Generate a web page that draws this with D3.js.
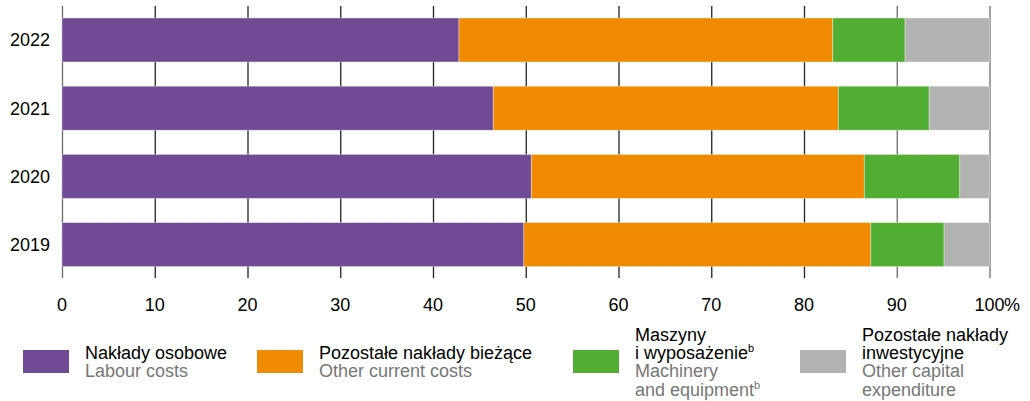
<!DOCTYPE html>
<html>
<head>
<meta charset="utf-8">
<script src="https://cdn.jsdelivr.net/npm/d3@7"></script>
<style>
  body { margin: 0; background: #fff; }
  text { font-family: "Liberation Sans", Arial, sans-serif; }
</style>
</head>
<body>
<div id="chart"></div>
<script>
var years = ["2022", "2021", "2020", "2019"];
var labour = [42.8, 46.5, 50.6, 49.8];
var otherCurrent = [40.3, 37.2, 35.9, 37.4];
var machinery = [7.8, 9.8, 10.3, 7.9];
var otherCapital = [9.1, 6.5, 3.2, 4.9];
var xTicks = [0, 10, 20, 30, 40, 50, 60, 70, 80, 90, 100];

var seriesKeys = ["labour", "otherCurrent", "machinery", "otherCapital"];
var colors = ["#704a94", "#f08a00", "#52ad33", "#b2b2b2"];
var legendPl = [["Nakłady osobowe"], ["Pozostałe nakłady bieżące"], ["Maszyny", "i wyposażenie"], ["Pozostałe nakłady", "inwestycyjne"]];
var legendEn = [["Labour costs"], ["Other current costs"], ["Machinery", "and equipment"], ["Other capital", "expenditure"]];

var svgWidth = 1030;
var svgHeight = 401;

var svg = d3.select("#chart")
  .append("svg")
  .attr("width", svgWidth)
  .attr("height", svgHeight);

var rows = years.map((y, i) => ({
  year: y,
  labour: labour[i],
  otherCurrent: otherCurrent[i],
  machinery: machinery[i],
  otherCapital: otherCapital[i]
}));

var stack = d3.stack().keys(seriesKeys)(rows);

var x = d3.scaleLinear().domain([0, 100]).range([62, 989.5]);
var y = d3.scaleBand().domain(years).range([18, 266.6]).paddingInner(0.355).paddingOuter(0);

// grid lines behind bars
var gridTop = 6, gridBottom = 278;
svg.append("g").selectAll("line")
  .data(xTicks)
  .enter()
  .append("line")
  .attr("x1", d => x(d) + 0.5)
  .attr("x2", d => x(d) + 0.5)
  .attr("y1", gridTop)
  .attr("y2", gridBottom)
  .attr("stroke", d => (d === 0 || d === 100 || d === 90) ? "#6b6b6b" : "#222")
  .attr("stroke-width", 1.3);

// bars
svg.append("g").selectAll("g")
  .data(stack)
  .enter()
  .append("g")
  .attr("fill", (d, i) => colors[i])
  .selectAll("rect")
  .data(d => d)
  .enter()
  .append("rect")
  .attr("x", d => x(d[0]))
  .attr("width", d => x(d[1]) - x(d[0]))
  .attr("y", d => y(d.data.year))
  .attr("height", y.bandwidth())
  .attr("stroke", "#fff")
  .attr("stroke-opacity", 0.45)
  .attr("stroke-width", 0.8);

// y labels
svg.append("g").selectAll("text")
  .data(years)
  .enter()
  .append("text")
  .attr("x", 50)
  .attr("y", d => y(d) + y.bandwidth() / 2 + 6.5)
  .attr("text-anchor", "end")
  .attr("font-size", 18)
  .attr("fill", "#000")
  .text(d => d);

// x tick labels
svg.append("g").selectAll("text")
  .data(xTicks)
  .enter()
  .append("text")
  .attr("x", d => x(d))
  .attr("y", 311)
  .attr("text-anchor", "middle")
  .attr("font-size", 18)
  .attr("fill", "#000")
  .text(d => d);

svg.append("text")
  .attr("x", x(100) + 14.5)
  .attr("y", 311)
  .attr("font-size", 18)
  .attr("fill", "#000")
  .text("%");

// legend
var legendX = [23, 257, 573, 800];
var legend = svg.append("g").selectAll("g")
  .data(seriesKeys)
  .enter()
  .append("g")
  .attr("transform", (d, i) => `translate(${legendX[i]}, 0)`);

legend.append("rect")
  .attr("x", 0)
  .attr("y", 350)
  .attr("width", 46)
  .attr("height", 23)
  .attr("fill", (d, i) => colors[i]);

legend.each(function(d, i) {
  var g = d3.select(this);
  var pl = legendPl[i];
  var en = legendEn[i];
  var startY = pl.length === 2 ? 341 : 359;
  var lh = 18.2;
  pl.forEach((t, j) => {
    var txt = g.append("text")
      .attr("x", 62)
      .attr("y", startY + j * lh)
      .attr("font-size", 18)
      .attr("fill", "#000")
      .text(t);
    if (i === 2 && j === 1) {
      txt.append("tspan").attr("font-size", 11).attr("dy", -7).text("b");
    }
  });
  en.forEach((t, j) => {
    var txt = g.append("text")
      .attr("x", 62)
      .attr("y", startY + (pl.length + j) * lh)
      .attr("font-size", 18)
      .attr("fill", "#777")
      .text(t);
    if (i === 2 && j === 1) {
      txt.append("tspan").attr("font-size", 11).attr("dy", -7).text("b");
    }
  });
});
</script>
</body>
</html>
